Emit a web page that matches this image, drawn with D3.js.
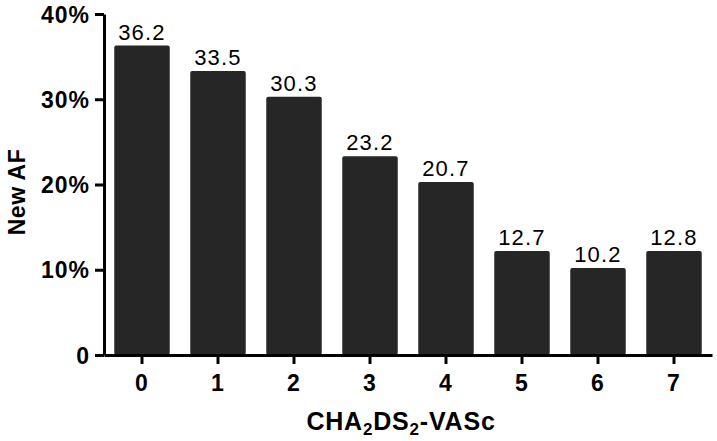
<!DOCTYPE html>
<html>
<head>
<meta charset="utf-8">
<script src="https://cdn.jsdelivr.net/npm/d3@7"></script>
<style>
  body { margin: 0; background: #fff; }
  text { font-family: "Liberation Sans", Arial, sans-serif; }
</style>
</head>
<body>
<svg id="chart" width="717" height="441"></svg>
<script>
// data
const scores = ["0", "1", "2", "3", "4", "5", "6", "7"];
const newAF = [36.3, 33.3, 30.3, 23.3, 20.3, 12.2, 10.2, 12.2];   // bar heights as drawn (%)
const valueLabels = ["36.2", "33.5", "30.3", "23.2", "20.7", "12.7", "10.2", "12.8"];
const yTicks = [0, 10, 20, 30, 40];

const svg = d3.select("#chart");
const margin = { top: 14, right: 5, bottom: 86, left: 104 };
const width = 717, height = 441;

const x = d3.scaleBand()
  .domain(scores)
  .range([margin.left, width - margin.right])
  .paddingInner(0.27)
  .paddingOuter(0.135);

const y = d3.scaleLinear()
  .domain([0, 40])
  .range([height - margin.bottom, margin.top]);

// bars
svg.append("g")
  .selectAll("rect")
  .data(scores)
  .join("rect")
  .attr("x", (d) => x(d))
  .attr("y", (d, i) => y(newAF[i]))
  .attr("width", x.bandwidth())
  .attr("height", (d, i) => y(0) - y(newAF[i]))
  .attr("rx", 2)
  .attr("fill", "#262626");

// value labels
svg.append("g")
  .selectAll("text")
  .data(scores)
  .join("text")
  .attr("x", (d) => x(d) + x.bandwidth() / 2)
  .attr("y", (d, i) => y(newAF[i]) - 6)
  .attr("text-anchor", "middle")
  .attr("font-size", 22)
  .attr("letter-spacing", 1.2)
  .attr("fill", "#000")
  .text((d, i) => valueLabels[i]);

// y axis
const yAxis = svg.append("g")
  .attr("transform", `translate(${margin.left},0)`)
  .call(d3.axisLeft(y).tickValues(yTicks).tickSize(9).tickSizeOuter(0)
    .tickFormat((d) => d === 0 ? "0" : d + "%"));

// x axis
const xAxis = svg.append("g")
  .attr("transform", `translate(0,${y(0)})`)
  .call(d3.axisBottom(x).tickSize(9).tickSizeOuter(0));

[yAxis, xAxis].forEach((g) => {
  g.select(".domain").attr("stroke", "#000").attr("stroke-width", 3);
  g.selectAll(".tick line").attr("stroke", "#000").attr("stroke-width", 3);
  g.selectAll(".tick text")
    .attr("fill", "#000")
    .attr("font-size", 23)
    .attr("font-weight", "bold")
    .attr("letter-spacing", 1)
    .style("font-family", "'Liberation Sans', Arial, sans-serif");
});
yAxis.selectAll(".tick text").attr("x", -14).attr("dy", "0.35em");
xAxis.selectAll(".tick text").attr("y", 20);

// axis titles
svg.append("text")
  .attr("transform", "translate(25,192) rotate(-90)")
  .attr("text-anchor", "middle")
  .attr("font-size", 23)
  .attr("font-weight", "bold")
  .attr("letter-spacing", 0.5)
  .text("New AF");

const xt = svg.append("text")
  .attr("x", 401)
  .attr("y", 430)
  .attr("text-anchor", "middle")
  .attr("font-size", 25)
  .attr("font-weight", "bold")
  .attr("letter-spacing", 0.8);
xt.append("tspan").text("CHA");
xt.append("tspan").attr("font-size", 17).attr("dy", 5).text("2");
xt.append("tspan").attr("dy", -5).text("DS");
xt.append("tspan").attr("font-size", 17).attr("dy", 5).text("2");
xt.append("tspan").attr("dy", -5).text("-VASc");
</script>
</body>
</html>
